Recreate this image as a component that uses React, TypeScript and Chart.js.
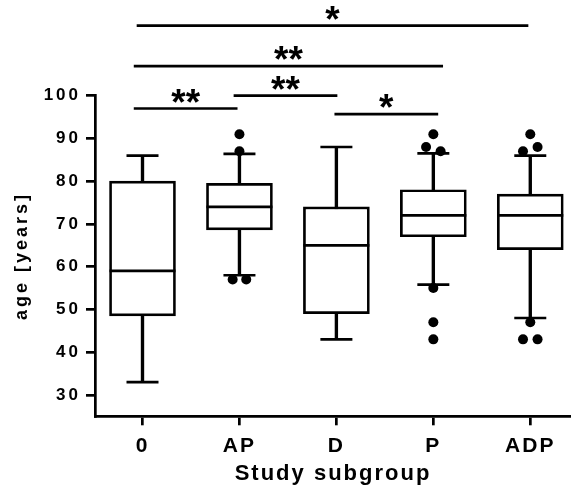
import React, { useEffect, useRef } from 'react';
import { Chart, registerables } from 'chart.js';

Chart.register(...registerables);

// ---- data ----
const categories = ['0', 'AP', 'D', 'P', 'ADP'];
const whiskerLow = [33, 58, 43, 55.8, 48];
const q1 = [48.5, 68.6, 49, 67, 64];
const median = [59, 74, 65, 72, 72];
const q3 = [80, 79.5, 74, 78, 77];
const whiskerHigh = [86, 86.4, 88, 86.5, 86];
const outlierX = [1, 1, 0.93, 1.07, 3, 2.925, 3.075, 3, 3, 3, 4, 3.925, 4.075, 4, 3.925, 4.075];
const outlierY = [91, 87, 57, 57, 91, 88, 87, 55, 47, 43, 91, 87, 88, 47, 43, 43];
const yTicks = [30, 40, 50, 60, 70, 80, 90, 100];
const sigStart = [-0.06, -0.09, 0.94, -0.09, 1.98];
const sigEnd = [3.98, 3.1, 2.01, 0.98, 3.05];
const sigY = [116.4, 106.9, 100, 97, 95.7];
const sigLabel = ['*', '**', '**', '**', '*'];

const FAMILY = '"Liberation Sans", Arial, Helvetica, sans-serif';
const BLACK = '#000000';
const LW = 2.7;

const starsPlugin = {
  id: 'starsAndSpacing',
  beforeDraw(chart: any) {
    (chart.ctx as any).letterSpacing = '2px';
  },
  afterDatasetsDraw(chart: any) {
    const ctx = chart.ctx as any;
    const xs = chart.scales.x;
    const ys = chart.scales.y;
    ctx.save();
    ctx.letterSpacing = '0px';
    ctx.fillStyle = BLACK;
    ctx.font = `bold 37px ${FAMILY}`;
    ctx.textAlign = 'center';
    ctx.textBaseline = 'alphabetic';
    sigLabel.forEach((lab, i) => {
      const cx = (xs.getPixelForValue(sigStart[i]) + xs.getPixelForValue(sigEnd[i])) / 2;
      const cy = ys.getPixelForValue(sigY[i]) + 6;
      ctx.fillText(lab, cx, cy);
    });
    ctx.restore();
    ctx.letterSpacing = '3px';
  },
  afterDraw(chart: any) {
    (chart.ctx as any).letterSpacing = '0px';
  },
};

export default function App() {
  const ref = useRef<HTMLCanvasElement>(null);
  useEffect(() => {
    document.body.style.margin = '0';
    const datasets: any[] = [
      {
        type: 'bar',
        data: categories.map((_, i) => ({ x: i, y: [whiskerLow[i], whiskerHigh[i]] })),
        backgroundColor: BLACK,
        borderWidth: 0,
        barThickness: LW,
        grouped: false,
        order: 6,
      },
      {
        type: 'bar',
        data: categories.map((_, i) => ({ x: i, y: [q1[i], q3[i]] })),
        backgroundColor: '#ffffff',
        borderColor: BLACK,
        borderWidth: LW,
        borderSkipped: false,
        barThickness: 66,
        grouped: false,
        order: 5,
      },
      {
        type: 'scatter',
        data: categories.map((_, i) => ({ x: i, y: median[i] })),
        pointStyle: 'line',
        pointRadius: 33,
        pointBorderWidth: LW,
        pointBorderColor: BLACK,
        order: 4,
      },
      {
        type: 'scatter',
        data: [
          ...categories.map((_, i) => ({ x: i, y: whiskerLow[i] })),
          ...categories.map((_, i) => ({ x: i, y: whiskerHigh[i] })),
        ],
        pointStyle: 'line',
        pointRadius: 16,
        pointBorderWidth: LW,
        pointBorderColor: BLACK,
        order: 4,
      },
      ...sigLabel.map((_, i) => ({
        type: 'line',
        data: [
          { x: sigStart[i], y: sigY[i] },
          { x: sigEnd[i], y: sigY[i] },
        ],
        borderColor: BLACK,
        borderWidth: LW,
        pointRadius: 0,
        clip: false,
        order: 3,
      })),
      {
        type: 'scatter',
        data: outlierX.map((x, i) => ({ x, y: outlierY[i] })),
        pointStyle: 'circle',
        pointRadius: 5,
        pointBackgroundColor: BLACK,
        pointBorderWidth: 0,
        order: 1,
      },
    ];

    const chart = new Chart(ref.current as HTMLCanvasElement, {
      type: 'bar',
      data: { datasets },
      options: {
        responsive: false,
        animation: false,
        events: [],
        layout: { autoPadding: false, padding: { top: 95.7, left: 0, right: 0, bottom: 0 } },
        plugins: {
          legend: { display: false },
          tooltip: { enabled: false },
        },
        scales: {
          x: {
            type: 'linear',
            min: -0.49,
            max: 4.42,
            offset: false,
            afterBuildTicks: (s: any) => {
              s.ticks = categories.map((_, i) => ({ value: i }));
            },
            afterFit: (s: any) => {
              s.height = 78.7;
              s.paddingLeft = 0;
              s.paddingRight = 0;
            },
            grid: {
              display: true,
              drawOnChartArea: false,
              drawTicks: true,
              tickLength: 9,
              color: BLACK,
              lineWidth: LW,
              offset: false,
            },
            border: { display: true, color: BLACK, width: LW },
            ticks: {
              color: BLACK,
              font: { family: FAMILY, size: 21, weight: 'bold' },
              padding: 8,
              maxRotation: 0,
              autoSkip: false,
              callback: (v: any) => categories[v] ?? '',
            },
            title: {
              display: true,
              text: 'Study subgroup',
              color: BLACK,
              font: { family: FAMILY, size: 22, weight: 'bold' },
              padding: { top: 0, bottom: 8 },
            },
          },
          y: {
            type: 'linear',
            min: 25,
            max: 100,
            afterBuildTicks: (s: any) => {
              s.ticks = yTicks.map((v) => ({ value: v }));
            },
            afterFit: (s: any) => {
              s.width = 95;
              s.paddingTop = 0;
              s.paddingBottom = 0;
            },
            grid: {
              display: true,
              drawOnChartArea: false,
              drawTicks: true,
              tickLength: 9,
              color: BLACK,
              lineWidth: LW,
              z: 1,
            },
            border: { display: true, color: BLACK, width: LW, z: 1 },
            ticks: {
              color: BLACK,
              font: { family: FAMILY, size: 17, weight: 'bold' },
              padding: 5,
              z: 1,
              callback: (v: any) => String(v),
            },
            title: {
              display: true,
              text: 'age [years]',
              color: BLACK,
              font: { family: FAMILY, size: 18, weight: 'bold' },
              padding: { top: 11, bottom: 0 },
            },
          },
        },
      } as any,
      plugins: [starsPlugin],
    });
    return () => chart.destroy();
  }, []);

  return (
    <canvas
      ref={ref}
      width={571}
      height={495}
      style={{ display: 'block', width: 571, height: 495 }}
    />
  );
}
